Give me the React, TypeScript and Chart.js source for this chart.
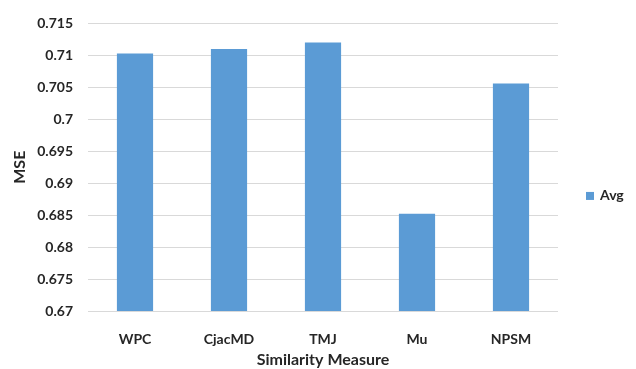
import React, { useEffect, useRef } from "react";
import { Chart, registerables } from "chart.js";

Chart.register(...registerables);

const categories = ["WPC", "CjacMD", "TMJ", "Mu", "NPSM"];
const avgValues = [0.7103, 0.711, 0.712, 0.6852, 0.7056];
const yTicks = [0.67, 0.675, 0.68, 0.685, 0.69, 0.695, 0.7, 0.705, 0.71, 0.715];
const seriesLabel = "Avg";
const xTitle = "Similarity Measure";
const yTitle = "MSE";

const BAR_COLOR = "#5B9BD5";
const TEXT_COLOR = "#262626";
const FONT = "Lato, 'Open Sans', sans-serif";
const WEIGHT = "bold";

// Legend drawn to the right of the plot, Excel-style single entry
const sideLegend = {
  id: "sideLegend",
  afterDraw(chart: any) {
    const { ctx, chartArea } = chart;
    const ds = chart.data.datasets[0];
    const x = chartArea.right + 28;
    const y = chart.height * 0.531;
    ctx.save();
    ctx.fillStyle = ds.backgroundColor;
    ctx.fillRect(x, y - 4, 8, 8);
    ctx.fillStyle = TEXT_COLOR;
    ctx.font = `${WEIGHT} 14px ${FONT}`;
    ctx.textBaseline = "middle";
    ctx.textAlign = "left";
    ctx.fillText(ds.label, x + 14, y);
    ctx.restore();
  },
};

export default function App() {
  const canvasRef = useRef<HTMLCanvasElement | null>(null);

  useEffect(() => {
    if (!canvasRef.current) return;
    const font = { family: FONT, size: 14, weight: WEIGHT };
    const titleFont = { family: FONT, size: 16, weight: WEIGHT };
    const chart = new Chart(canvasRef.current, {
      type: "bar",
      data: {
        labels: categories,
        datasets: [
          {
            label: seriesLabel,
            data: avgValues,
            backgroundColor: BAR_COLOR,
            categoryPercentage: 1,
            barPercentage: 0.385,
          },
        ],
      },
      plugins: [sideLegend],
      options: {
        responsive: false,
        animation: false,
        layout: { padding: { top: 18, right: 78, left: 0, bottom: 0 } },
        plugins: {
          legend: { display: false },
          tooltip: { enabled: false },
        },
        scales: {
          x: {
            grid: { display: false },
            border: { display: false },
            ticks: {
              color: TEXT_COLOR,
              font,
              padding: 12,
            },
            title: {
              display: true,
              text: xTitle,
              color: TEXT_COLOR,
              font: titleFont,
              padding: { top: 0, bottom: 0 },
            },
            afterFit(scale: any) {
              scale.height = 58;
            },
          },
          y: {
            min: 0.67,
            max: 0.715,
            grid: { color: "#d9d9d9", lineWidth: 1, drawTicks: false },
            border: { display: false },
            afterBuildTicks(scale: any) {
              scale.ticks = yTicks.map((v) => ({ value: v }));
            },
            ticks: {
              color: TEXT_COLOR,
              font,
              padding: 15,
              callback: (v: any) => String(Number(Number(v).toFixed(3))),
            },
            title: {
              display: true,
              text: yTitle,
              color: TEXT_COLOR,
              font: titleFont,
              padding: { top: 10, bottom: 0 },
            },
            afterFit(scale: any) {
              scale.width = 88;
            },
          },
        },
      },
    });
    return () => chart.destroy();
  }, []);

  return (
    <div
      style={{
        position: "fixed",
        left: 0,
        top: 0,
        width: 636,
        height: 369,
        background: "#ffffff",
      }}
    >
      <canvas ref={canvasRef} width={636} height={369} />
    </div>
  );
}
